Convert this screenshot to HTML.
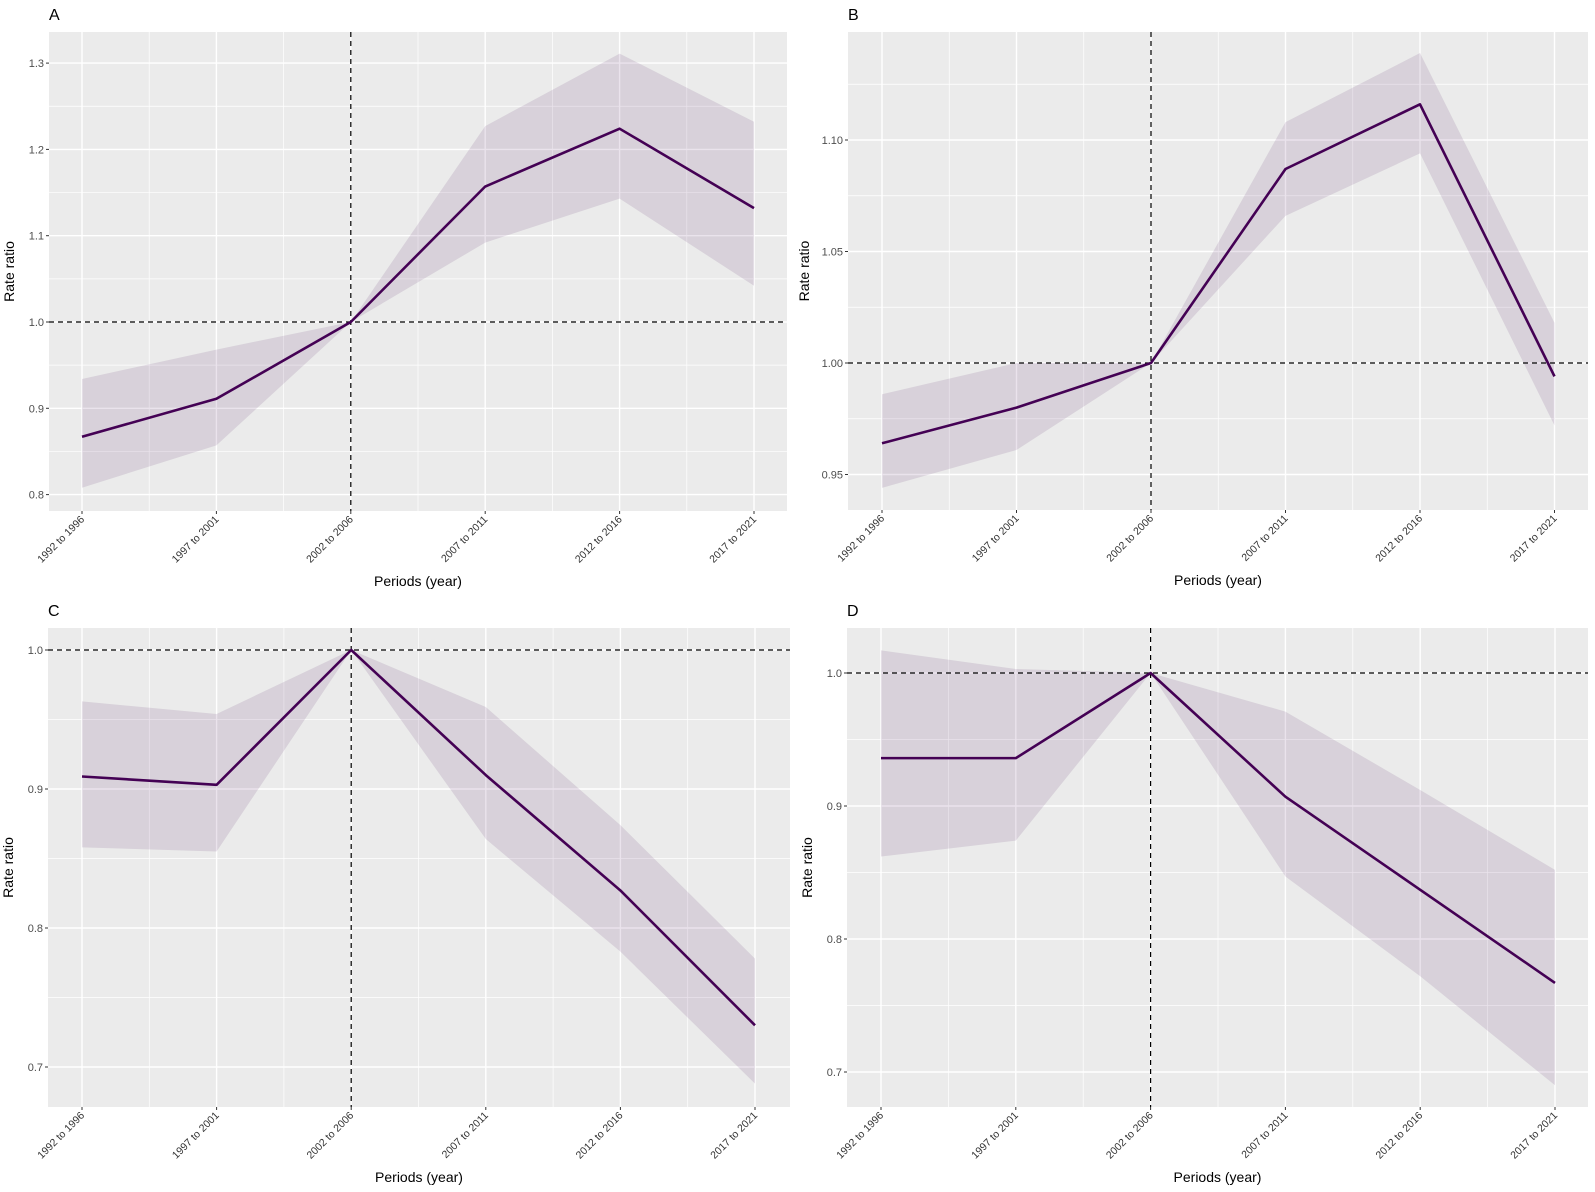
<!DOCTYPE html>
<html><head><meta charset="utf-8"><style>
html,body{margin:0;padding:0;background:#fff;}
svg{display:block;font-family:"Liberation Sans",sans-serif;}
</style></head><body>
<svg id="fig" width="1595" height="1192" viewBox="0 0 1595 1192" xmlns="http://www.w3.org/2000/svg"></svg>
<script>
const categories = ["1992 to 1996","1997 to 2001","2002 to 2006","2007 to 2011","2012 to 2016","2017 to 2021"];
const aValues = [0.867,0.911,1.0,1.157,1.224,1.132];
const aLower  = [0.808,0.857,1.0,1.092,1.143,1.042];
const aUpper  = [0.934,0.968,1.0,1.227,1.311,1.232];
const aTicks  = [0.8,0.9,1.0,1.1,1.2,1.3];
const aTickLabels = ["0.8","0.9","1.0","1.1","1.2","1.3"];
const bValues = [0.964,0.980,1.0,1.087,1.116,0.994];
const bLower  = [0.944,0.961,1.0,1.066,1.094,0.972];
const bUpper  = [0.986,1.000,1.0,1.108,1.139,1.018];
const bTicks  = [0.95,1.00,1.05,1.10];
const bTickLabels = ["0.95","1.00","1.05","1.10"];
const cValues = [0.909,0.903,1.0,0.910,0.827,0.730];
const cLower  = [0.858,0.855,1.0,0.864,0.783,0.688];
const cUpper  = [0.963,0.954,1.0,0.959,0.874,0.778];
const cTicks  = [0.7,0.8,0.9,1.0];
const cTickLabels = ["0.7","0.8","0.9","1.0"];
const dValues = [0.936,0.936,1.0,0.907,0.837,0.767];
const dLower  = [0.862,0.874,1.0,0.847,0.772,0.690];
const dUpper  = [1.017,1.003,1.0,0.971,0.912,0.852];
const dTicks  = [0.7,0.8,0.9,1.0];
const dTickLabels = ["0.7","0.8","0.9","1.0"];

const NS="http://www.w3.org/2000/svg";
const svg=document.getElementById('fig');
function mk(tag,attrs,parent){const e=document.createElementNS(NS,tag);for(const k in attrs)e.setAttribute(k,attrs[k]);(parent||svg).appendChild(e);return e;}

const panels=[
 {id:'a',letter:'A',vals:aValues,lo:aLower,up:aUpper,ticks:aTicks,tl:aTickLabels,left:49,right:787,top:32,bottom:511,x0:82,dx:134.4,refY:322,refV:1.0,k:863},
 {id:'b',letter:'B',vals:bValues,lo:bLower,up:bUpper,ticks:bTicks,tl:bTickLabels,left:848,right:1588,top:32,bottom:510,x0:882,dx:134.5,refY:363,refV:1.0,k:2230},
 {id:'c',letter:'C',vals:cValues,lo:cLower,up:cUpper,ticks:cTicks,tl:cTickLabels,left:48,right:790,top:628,bottom:1107,x0:82,dx:134.6,refY:650,refV:1.0,k:1390},
 {id:'d',letter:'D',vals:dValues,lo:dLower,up:dUpper,ticks:dTicks,tl:dTickLabels,left:847,right:1588,top:628,bottom:1107,x0:881,dx:134.8,refY:673,refV:1.0,k:1330}
];

panels.forEach(p=>{
  const xs=i=>p.x0+i*p.dx;
  const ys=v=>p.refY-(v-p.refV)*p.k;
  const g=mk('g',{});
  
  
  const bg=mk('rect',{x:p.left,y:p.top,width:p.right-p.left,height:p.bottom-p.top,fill:'#EBEBEB'},g);
  
  
  const step=p.ticks[1]-p.ticks[0];
  for(let i=-1;i<p.ticks.length;i++){
    const y=ys(p.ticks[0]+(i+0.5)*step);
    if(y>p.top&&y<p.bottom){const l=mk('line',{x1:p.left,x2:p.right,y1:y,y2:y,stroke:'#fff','stroke-width':0.7},g);
      }
  }
  for(let i=-1;i<categories.length;i++){
    const x=xs(i+0.5);
    if(x>p.left&&x<p.right){const l=mk('line',{x1:x,x2:x,y1:p.top,y2:p.bottom,stroke:'#fff','stroke-width':0.7},g);
      }
  }
  p.ticks.forEach((t,i)=>{
    const y=ys(t);
    const l=mk('line',{x1:p.left,x2:p.right,y1:y,y2:y,stroke:'#fff','stroke-width':1.4},g);
    
    const tk=mk('line',{x1:p.left-3,x2:p.left,y1:y,y2:y,stroke:'#333','stroke-width':1},g);
    
    const tx=mk('text',{x:p.left-5,y:y+4,'text-anchor':'end','font-size':11,fill:'#4d4d4d'},g);
    tx.textContent=p.tl[i];
    
  });
  categories.forEach((c,i)=>{
    const x=xs(i);
    const l=mk('line',{x1:x,x2:x,y1:p.top,y2:p.bottom,stroke:'#fff','stroke-width':1.4},g);
    
    const tk=mk('line',{x1:x,x2:x,y1:p.bottom,y2:p.bottom+3,stroke:'#333','stroke-width':1},g);
    
    const tx=mk('text',{x:x+3,y:p.bottom+9,'text-anchor':'end','font-size':10.5,fill:'#333',transform:`rotate(-45 ${x+3} ${p.bottom+9})`},g);
    tx.textContent=c;
    
  });
  let pts=[];
  p.up.forEach((v,i)=>pts.push(xs(i)+','+ys(v)));
  for(let i=p.lo.length-1;i>=0;i--)pts.push(xs(i)+','+ys(p.lo[i]));
  const band=mk('polygon',{points:pts.join(' '),fill:'#440154','fill-opacity':0.11},g);
  
  const hx=mk('line',{x1:p.left,x2:p.right,y1:ys(1.0),y2:ys(1.0),stroke:'#000','stroke-width':1.2,'stroke-dasharray':'5,4'},g);
  
  const vx=mk('line',{x1:xs(2),x2:xs(2),y1:p.top,y2:p.bottom,stroke:'#000','stroke-width':1.2,'stroke-dasharray':'5,4'},g);
  
  const ln=mk('polyline',{points:p.vals.map((v,i)=>xs(i)+','+ys(v)).join(' '),fill:'none',stroke:'#440154','stroke-width':2.6,'stroke-linejoin':'round'},g);
  
  const lt=mk('text',{x:p.left,y:p.top-12,'font-size':16,fill:'#000'},g);
  lt.textContent=p.letter;
  
  const xt=mk('text',{x:(p.left+p.right)/2,y:p.bottom+75,'text-anchor':'middle','font-size':14,fill:'#000'},g);
  xt.textContent='Periods (year)';
  
  const yx=p.left-(p.id==='b'?33:29)-6, yy=(p.top+p.bottom)/2;
  const yt=mk('text',{x:yx,y:yy,'text-anchor':'middle','font-size':14,fill:'#000',transform:`rotate(-90 ${yx} ${yy})`},g);
  yt.textContent='Rate ratio';
  
});
</script>
</body></html>
